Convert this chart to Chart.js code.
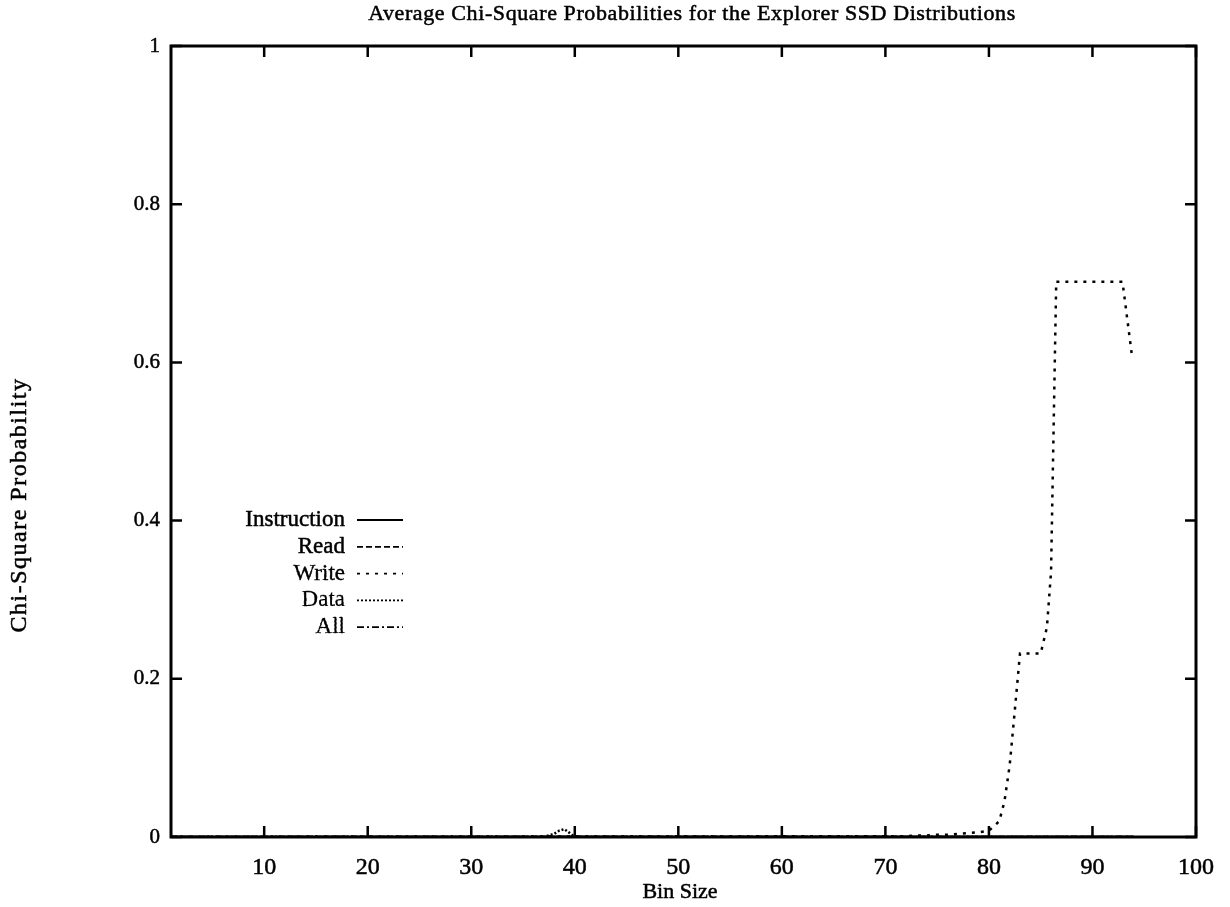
<!DOCTYPE html>
<html>
<head>
  <title>Chi-Square Probabilities</title>
  <meta charset="utf-8" />
  <style>
    body { margin: 0; background: #fff; }
    #chart { display: block; }
  </style>
</head>
<body>
  <canvas id="chart" width="1230" height="907"></canvas>

  <script src="https://cdn.jsdelivr.net/npm/chart.js"></script>
  <script>
    // bins and average probabilities per access type
    const instrBins = [1, 94];
    const instrValues = [0, 0];
    const readBins = [1, 94];
    const readValues = [0, 0];
    const writeBins = [1, 72, 73, 74, 75, 76, 77, 78, 79, 80, 81, 81.5, 82, 82.5, 83, 85, 85.6, 86, 86.5, 92.9, 93.8];
    const writeValues = [0, 0.001, 0.002, 0.002, 0.003, 0.003, 0.004, 0.005, 0.006, 0.008, 0.02, 0.045, 0.09, 0.16, 0.232, 0.232, 0.265, 0.335, 0.702, 0.702, 0.61];
    const dataBins = [1, 37, 38, 38.5, 39, 40, 94];
    const dataValues = [0, 0, 0.004, 0.008, 0.01, 0, 0];
    const allBins = [1, 94];
    const allValues = [0, 0];

    const xTicks = [10, 20, 30, 40, 50, 60, 70, 80, 90, 100];
    const yTicks = [0, 0.2, 0.4, 0.6, 0.8, 1];

    const FONT = '"Liberation Serif", "DejaVu Serif", serif';

    function pts(xs, ys) {
      return xs.map((x, i) => ({ x: x, y: ys[i] }));
    }

    function series(label, xs, ys, dash) {
      return {
        label: label,
        data: pts(xs, ys),
        borderColor: '#000',
        borderWidth: 2.5,
        borderDash: dash,
        pointRadius: 0,
        tension: 0,
        fill: false
      };
    }

    function inkText(ctx, text, x, y) {
      ctx.fillText(text, x, y);
      ctx.strokeText(text, x, y);
    }

    // frame, inward ticks on all four sides, titles and key
    const gnuplotLook = {
      id: 'gnuplotLook',
      afterDatasetsDraw(chart) {
        const ctx = chart.ctx;
        const a = chart.chartArea;
        const xs = chart.scales.x, ys = chart.scales.y;
        ctx.save();
        ctx.strokeStyle = '#000';
        ctx.lineWidth = 3;
        ctx.strokeRect(a.left, a.top, a.right - a.left, a.bottom - a.top);

        ctx.lineWidth = 2.5;
        const tl = 11;
        ctx.beginPath();
        xTicks.forEach(v => {
          const px = xs.getPixelForValue(v);
          ctx.moveTo(px, a.bottom); ctx.lineTo(px, a.bottom - tl);
          ctx.moveTo(px, a.top); ctx.lineTo(px, a.top + tl);
        });
        yTicks.forEach(v => {
          const py = ys.getPixelForValue(v);
          ctx.moveTo(a.left, py); ctx.lineTo(a.left + tl, py);
          ctx.moveTo(a.right, py); ctx.lineTo(a.right - tl, py);
        });
        ctx.stroke();

        ctx.fillStyle = '#000';
        ctx.lineWidth = 0.5;
        ctx.textAlign = 'center';
        ctx.textBaseline = 'middle';
        ctx.font = '22px ' + FONT;
        ctx.letterSpacing = '0.6px';
        inkText(ctx, 'Average Chi-Square Probabilities for the Explorer SSD Distributions', 692, 14);
        ctx.letterSpacing = '0px';
        inkText(ctx, 'Bin Size', 680, 892);

        ctx.save();
        ctx.translate(20, 505);
        ctx.rotate(-Math.PI / 2);
        ctx.font = '24px ' + FONT;
        ctx.letterSpacing = '1.5px';
        inkText(ctx, 'Chi-Square Probability', 0, 0);
        ctx.restore();

        // key
        ctx.font = '23px ' + FONT;
        ctx.textAlign = 'right';
        chart.data.datasets.forEach((ds, i) => {
          const y = 520 + i * 26.8;
          ctx.lineWidth = 0.5;
          inkText(ctx, ds.label, 345, y);
          ctx.lineWidth = 1.8;
          ctx.setLineDash(ds.borderDash || []);
          ctx.beginPath();
          ctx.moveTo(357, y);
          ctx.lineTo(403, y);
          ctx.stroke();
        });
        ctx.setLineDash([]);
        ctx.restore();
      }
    };

    new Chart(document.getElementById('chart').getContext('2d'), {
      type: 'line',
      data: {
        datasets: [
          series('Instruction', instrBins, instrValues, []),
          series('Read', readBins, readValues, [6, 3]),
          series('Write', writeBins, writeValues, [3, 6]),
          series('Data', dataBins, dataValues, [2, 2]),
          series('All', allBins, allValues, [7, 3, 2, 3])
        ]
      },
      options: {
        responsive: false,
        animation: false,
        layout: { padding: { left: 0, top: 46, right: 32, bottom: 0 } },
        plugins: {
          legend: { display: false },
          title: { display: false },
          tooltip: { enabled: false }
        },
        scales: {
          x: {
            type: 'linear',
            min: 1,
            max: 100,
            afterBuildTicks: s => { s.ticks = xTicks.map(v => ({ value: v })); },
            afterFit: s => { s.height = 70; },
            grid: { display: false, drawTicks: false },
            border: { display: false },
            ticks: {
              color: '#000',
              padding: 16,
              maxRotation: 0,
              textStrokeColor: '#000',
              textStrokeWidth: 0.5,
              font: { family: FONT, size: 24 }
            }
          },
          y: {
            type: 'linear',
            min: 0,
            max: 1,
            afterBuildTicks: s => { s.ticks = yTicks.map(v => ({ value: v })); },
            afterFit: s => { s.width = 171; },
            grid: { display: false, drawTicks: false },
            border: { display: false },
            ticks: {
              color: '#000',
              padding: 11,
              textStrokeColor: '#000',
              textStrokeWidth: 0.5,
              font: { family: FONT, size: 21 },
              callback: v => String(v)
            }
          }
        }
      },
      plugins: [gnuplotLook]
    });
  </script>
</body>
</html>
